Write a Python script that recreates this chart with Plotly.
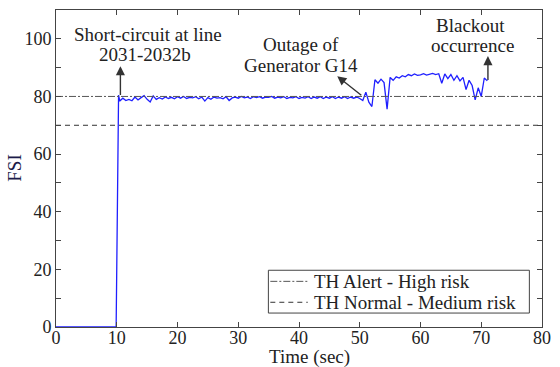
import plotly.graph_objects as go

# Time axis (s) and FSI samples
time_s = [
    0.0, 9.9, 10.3,
    10.5, 11.0, 11.5, 12.0, 12.5, 13.0, 13.5, 14.0, 14.5, 15.0,
    15.5, 16.0, 16.5, 17.0, 17.5, 18.0, 18.5, 19.0, 19.5, 20.0,
    20.5, 21.0, 21.5, 22.0, 22.5, 23.0, 23.5, 24.0, 24.5, 25.0,
    25.5, 26.0, 26.5, 27.0, 27.5, 28.0, 28.5, 29.0, 29.5, 30.0,
    30.5, 31.0, 31.5, 32.0, 32.5, 33.0, 33.5, 34.0, 34.5, 35.0,
    35.5, 36.0, 36.5, 37.0, 37.5, 38.0, 38.5, 39.0, 39.5, 40.0,
    40.5, 41.0, 41.5, 42.0, 42.5, 43.0, 43.5, 44.0, 44.5, 45.0,
    45.5, 46.0, 46.5, 47.0, 47.5, 48.0, 48.5, 49.0, 49.5, 50.0,
    50.5, 51.0, 51.5, 52.0, 52.5, 53.0, 53.5, 54.0, 54.5, 55.0,
    55.5, 56.0, 56.5, 57.0, 57.5, 58.0, 58.5, 59.0, 59.5, 60.0,
    60.5, 61.0, 61.5, 62.0, 62.5, 63.0, 63.5, 64.0, 64.5, 65.0,
    65.5, 66.0, 66.5, 67.0, 67.5, 68.0, 68.5, 69.0, 69.5, 70.0,
    70.5, 71.0,
]
fsi = [
    0.0, 0.0, 80.5,
    78.4, 79.4, 78.6, 79.0, 78.5, 79.8, 78.8, 79.6, 80.3, 79.0,
    78.1, 80.2, 79.0, 79.6, 79.1, 79.8, 79.3, 79.7, 79.2, 79.9,
    79.4, 80.0, 79.3, 79.7, 79.5, 79.9, 79.2, 79.8, 78.4, 79.6,
    79.0, 79.8, 79.4, 79.6, 79.2, 79.9, 78.6, 79.5, 79.8, 79.4,
    80.0, 79.5, 79.8, 79.3, 79.9, 79.6, 79.9, 79.4, 79.8, 79.7,
    80.0, 79.4, 79.8, 79.5, 79.9, 79.3, 79.7, 79.5, 79.9, 79.3,
    79.7, 79.4, 79.9, 79.3, 79.8, 79.4, 79.9, 79.3, 79.8, 79.4,
    79.9, 79.3, 79.8, 79.4, 79.9, 79.3, 79.8, 79.4, 79.8, 79.3,
    78.6, 81.5, 78.0, 76.5, 85.8, 84.6, 86.0, 84.8, 75.6, 86.6,
    85.6, 86.8, 86.4, 87.2, 86.8, 87.6, 87.2, 87.8, 87.3, 87.5,
    87.9, 87.4, 87.8, 88.0, 87.6, 87.9, 84.6, 87.8, 86.2, 87.6,
    85.6, 87.2, 85.4, 86.6, 82.4, 85.6, 83.8, 78.8, 83.0, 80.0,
    86.4, 85.4,
]

# Risk thresholds
threshold_names = ["TH Alert - High risk", "TH Normal - Medium risk"]
threshold_values = [80, 70]
threshold_dash = ["7px,2px,2px,2px", "5px,4px"]
threshold_colors = ["#555555", "#333333"]

x_ticks = [0, 10, 20, 30, 40, 50, 60, 70, 80]
y_ticks = [0, 10, 20, 30, 40, 50, 60, 70, 80, 90, 100]
y_ticktext = ["0", "", "20", "", "40", "", "60", "", "80", "", "100"]

FONT = "Liberation Serif, Times New Roman, serif"
TXT = "#222222"

fig = go.Figure()

fig.add_trace(go.Scatter(
    x=time_s, y=fsi, mode="lines",
    line=dict(color="#1f1fff", width=1.3),
    showlegend=False,
))

for name, val, dash, col in zip(threshold_names, threshold_values,
                                threshold_dash, threshold_colors):
    fig.add_trace(go.Scatter(
        x=[x_ticks[0], x_ticks[-1]], y=[val, val], mode="lines",
        name=name, line=dict(color=col, width=1, dash=dash),
        showlegend=False,
    ))

# Event labels (text lines) and arrows
labels = [
    ("Short-circuit at line", 15.2, 101.6),
    ("2031-2032b", 14.7, 94.6),
    ("Outage of", 40.3, 98.1),
    ("Generator G14", 40.3, 90.8),
    ("Blackout", 68.2, 104.7),
    ("occurrence", 68.5, 97.7),
]
arrows = [  # (tip x, tip y, tail x, tail y)
    (10.6, 90.5, 10.6, 80.0),
    (46.3, 87.0, 50.5, 80.0),
    (71.1, 94.0, 71.1, 85.2),
]

annotations = []
for text, x, y in labels:
    annotations.append(dict(
        text=text, x=x, y=y, xref="x", yref="y", showarrow=False,
        font=dict(family=FONT, size=19, color=TXT),
        xanchor="center", yanchor="middle",
    ))
for tx, ty, sx, sy in arrows:
    annotations.append(dict(
        text="", x=tx, y=ty, ax=sx, ay=sy, xref="x", yref="y",
        axref="x", ayref="y", showarrow=True, arrowhead=2,
        arrowsize=1.3, arrowwidth=1.4, arrowcolor="#333333",
    ))

annotations.append(dict(
    text="Time (sec)", x=0.522, y=-0.095, xref="paper", yref="paper",
    showarrow=False, xanchor="center", yanchor="middle",
    font=dict(family=FONT, size=19, color=TXT),
))
annotations.append(dict(
    text="FSI", x=-0.086, y=0.5, xref="paper", yref="paper",
    showarrow=False, xanchor="center", yanchor="middle", textangle=-90,
    font=dict(family=FONT, size=19, color="#1c1c4a"),
))

# Legend box in the lower right of the axes
shapes = [dict(
    type="rect", xref="paper", yref="paper",
    x0=0.437, x1=0.974, y0=0.044, y1=0.179,
    line=dict(color="#444444", width=1), fillcolor="white", layer="above",
)]
legend_rows_y = [0.144, 0.078]
for name, dash, col, ry in zip(threshold_names, threshold_dash,
                               threshold_colors, legend_rows_y):
    shapes.append(dict(
        type="line", xref="paper", yref="paper",
        x0=0.441, x1=0.518, y0=ry, y1=ry,
        line=dict(color=col, width=1, dash=dash), layer="above",
    ))
    annotations.append(dict(
        text=name, x=0.526, y=ry, xref="paper", yref="paper",
        showarrow=False, xanchor="left", yanchor="middle",
        font=dict(family=FONT, size=19, color=TXT),
    ))

axis_common = dict(
    showline=True, linecolor="#444444", linewidth=1, mirror="ticks",
    ticks="inside", ticklen=5, tickcolor="#444444",
    showgrid=False, zeroline=False,
    tickfont=dict(family=FONT, size=18, color=TXT),
)

fig.update_layout(
    width=560, height=367,
    margin=dict(l=56, r=10, t=9, b=40),
    paper_bgcolor="white", plot_bgcolor="white",
    showlegend=False,
    xaxis=dict(range=[0, 80], tickvals=x_ticks, ticklabelstandoff=-6,
               **axis_common),
    yaxis=dict(range=[0, 110], tickvals=y_ticks, ticktext=y_ticktext,
               **axis_common),
    shapes=shapes,
    annotations=annotations,
)

fig.write_html("out.html")
